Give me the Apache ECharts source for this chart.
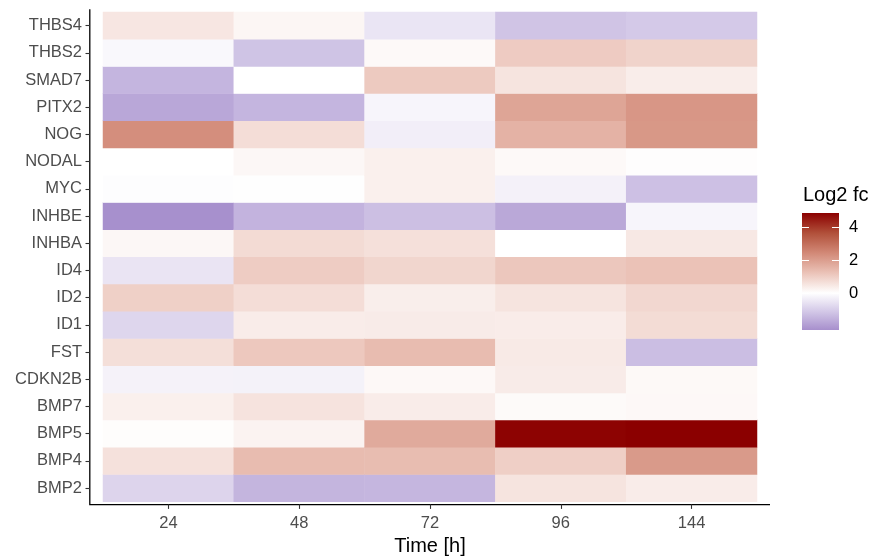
<!DOCTYPE html>
<html>
<head>
<meta charset="utf-8">
<script src="https://cdn.jsdelivr.net/npm/echarts@6/dist/echarts.min.js"></script>
<style>
  html, body { margin: 0; background: #ffffff; }
  #heatmap { width: 878px; height: 558px; }
</style>
</head>
<body>
<div id="heatmap"></div>
<script>
// time points (x) and genes (y, bottom to top)
const times = ['24', '48', '72', '96', '144'];
const genes = ['BMP2', 'BMP4', 'BMP5', 'BMP7', 'CDKN2B', 'FST', 'ID1', 'ID2', 'ID4',
  'INHBA', 'INHBE', 'MYC', 'NODAL', 'NOG', 'PITX2', 'SMAD7', 'THBS2', 'THBS4'];

// log2 fold change per time point, same order as genes
const fc24  = [-0.87, 0.60, 0.05, 0.30, -0.26, 0.65, -0.83, 0.95, -0.54, 0.16, -2.24, -0.05, 0.00, 2.32, -1.77, -1.49, -0.14, 0.50];
const fc48  = [-1.50, 1.36, 0.24, 0.56, -0.27, 1.11, 0.38, 0.69, 1.03, 0.73, -1.53, -0.03, 0.16, 0.69, -1.49, 0.00, -1.20, 0.18];
const fc72  = [-1.48, 1.34, 1.73, 0.38, 0.14, 1.36, 0.40, 0.34, 0.83, 0.63, -1.29, 0.30, 0.30, -0.34, -0.20, 1.07, 0.12, -0.52];
const fc96  = [0.54, 0.97, 4.80, 0.10, 0.40, 0.42, 0.38, 0.54, 1.13, 0.00, -1.76, -0.28, 0.12, 1.57, 1.84, 0.54, 1.05, -1.19];
const fc144 = [0.38, 2.07, 4.85, 0.14, 0.13, -1.31, 0.71, 0.81, 1.23, 0.46, -0.20, -1.27, 0.04, 2.12, 2.15, 0.36, 0.89, -1.09];

const legendTicks = [0, 2, 4];

const columns = [fc24, fc48, fc72, fc96, fc144];
const cells = [];
columns.forEach((col, xi) => {
  col.forEach((v, yi) => cells.push([xi, yi, v]));
});

// colour ramp: white at 0, symmetric limits so 0 sits in the middle
const limit = 4.85;
const ramp = ['#5b2fa5', '#7b58b8', '#a087c9', '#cfc3e5', '#ffffff',
  '#ebc3b8', '#d28977', '#b1503a', '#8b0000'];
const dataMin = -2.24;

// legend geometry
const bar = { x: 802, y: 213, w: 37, h: 117 };
const valToY = v => bar.y + (limit - v) / (limit - dataMin) * bar.h;
const stops = [];
ramp.forEach((c, i) => {
  const v = -limit + i * (2 * limit / (ramp.length - 1));
  if (v >= dataMin) stops.push({ offset: (limit - v) / (limit - dataMin), color: c });
});
stops.push({ offset: 1, color: '#a78fcc' });

const font = '"Liberation Sans", Arial, sans-serif';
const legendItems = [
  {
    type: 'rect',
    shape: { x: bar.x, y: bar.y, width: bar.w, height: bar.h },
    style: {
      fill: { type: 'linear', x: 0, y: 0, x2: 0, y2: 1, colorStops: stops }
    }
  },
  {
    type: 'text',
    style: { x: 803, y: 195, text: 'Log2 fc', font: '20px ' + font, fill: '#000000', verticalAlign: 'middle' }
  }
];
legendTicks.forEach(t => {
  const y = Math.round(valToY(t)) + 0.5;
  legendItems.push(
    { type: 'line', shape: { x1: bar.x, y1: y, x2: bar.x + 7, y2: y }, style: { stroke: '#ffffff', lineWidth: 1 } },
    { type: 'line', shape: { x1: bar.x + bar.w - 7, y1: y, x2: bar.x + bar.w, y2: y }, style: { stroke: '#ffffff', lineWidth: 1 } },
    { type: 'text', style: { x: 849, y: y, text: String(t), font: '16.5px ' + font, fill: '#000000', verticalAlign: 'middle' } }
  );
});

const hiddenLine = { show: true, lineStyle: { color: 'rgba(0,0,0,0)', width: 0 } };
const tickStyle = { show: true, alignWithLabel: true, inside: false, length: 4.5, lineStyle: { color: '#333333', width: 1.1, opacity: 1 } };

const chart = echarts.init(document.getElementById('heatmap'));
chart.setOption({
  animation: false,
  backgroundColor: '#ffffff',
  grid: { left: 103, right: 121, top: 12, bottom: 56.3, containLabel: false, outerBoundsMode: 'none' },
  xAxis: {
    type: 'category',
    data: times,
    offset: 2.7,
    name: 'Time [h]',
    nameLocation: 'middle',
    nameGap: 24,
    nameTextStyle: { fontSize: 20, color: '#000000', fontFamily: font, verticalAlign: 'top' },
    axisLine: hiddenLine,
    axisTick: tickStyle,
    axisLabel: { color: '#4d4d4d', fontSize: 16.5, fontFamily: font, margin: 10.5 },
    splitLine: { show: false }
  },
  yAxis: {
    type: 'category',
    data: genes,
    offset: 13,
    axisLine: hiddenLine,
    axisTick: tickStyle,
    axisLabel: { color: '#4d4d4d', fontSize: 16.5, fontFamily: font, margin: 8, padding: [4, 0, 0, 0] },
    splitLine: { show: false }
  },
  visualMap: {
    show: false,
    type: 'continuous',
    min: -limit,
    max: limit,
    dimension: 2,
    inRange: { color: ramp }
  },
  series: [{
    type: 'heatmap',
    data: cells,
    itemStyle: { borderWidth: 0 },
    emphasis: { disabled: true }
  }],
  graphic: [
    {
      type: 'polyline',
      shape: { points: [[89.8, 9.3], [89.8, 504.6], [770, 504.6]] },
      style: { stroke: '#000000', lineWidth: 1.3, fill: null }
    }
  ].concat(legendItems)
});
</script>
</body>
</html>
